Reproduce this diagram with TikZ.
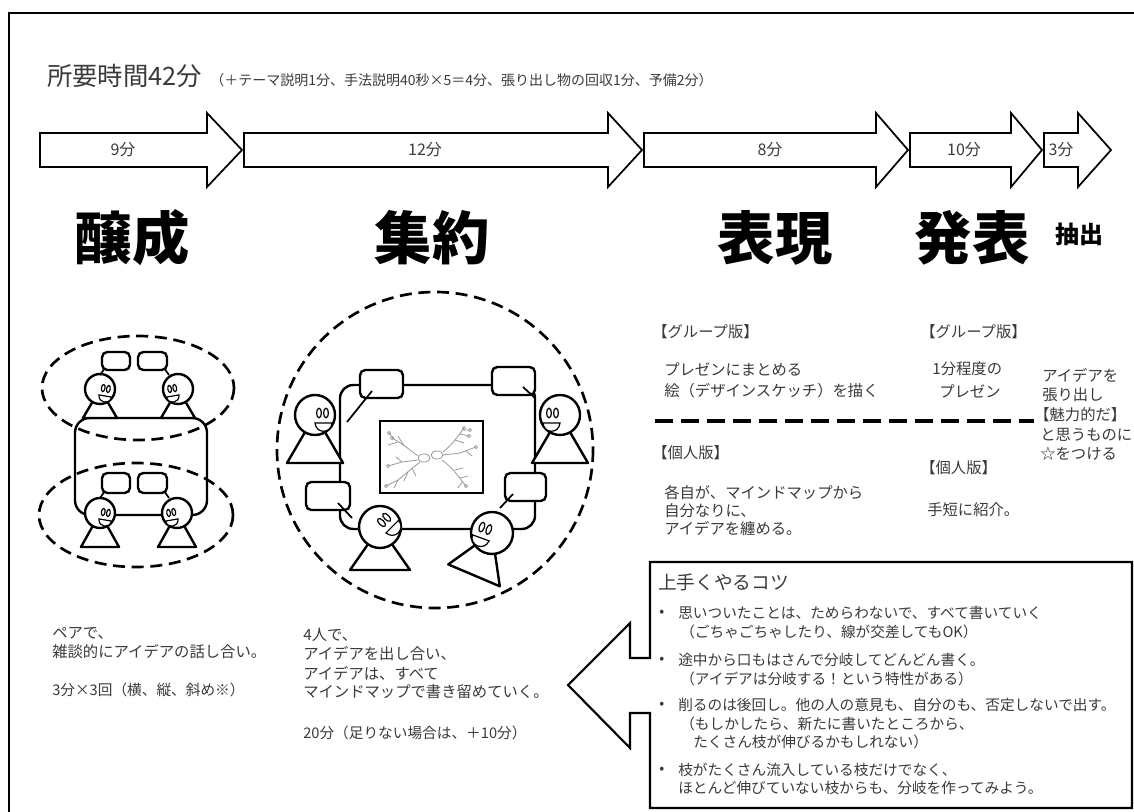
\documentclass[tikz,border=0pt]{standalone}
\usepackage{fontspec}
\setmainfont{Noto Sans CJK JP}
\usetikzlibrary{calc}

\definecolor{ink}{HTML}{3A3A3A}
\definecolor{mapgray}{HTML}{9A9A9A}

\tikzset{
  figline/.style={line width=1.8pt, line join=round},
  faceline/.style={line width=0.9pt},
  dashring/.style={line width=2pt, dash pattern=on 9pt off 5pt},
  bubble/.style={line width=1.8pt, rounded corners=4pt, fill=white},
  tail/.style={line width=1.3pt},
  flowshape/.style={line width=1.3pt, line join=miter, fill=white},
  flowlabel/.style={inner sep=0pt, text=ink, font=\fontsize{12}{12}\selectfont},
  stage/.style={inner sep=0pt, font=\fontsize{43}{43}\selectfont\bfseries},
  note/.style={inner sep=0pt, anchor=west, text=ink, font=\fontsize{11.5}{13}\selectfont},
  smallnote/.style={inner sep=0pt, anchor=west, text=ink, font=\fontsize{11}{12}\selectfont},
  tip/.style={inner sep=0pt, anchor=west, text=ink, font=\fontsize{11}{13}\selectfont},
  mapline/.style={mapgray, line width=0.6pt},
}

% block arrow of the timeline: name, left x, head x, tip x, label x, label
\newcommand{\flowarrow}[6]{%
  \draw[flowshape] (#2,133) -- (#3,133) -- (#3,113) -- (#4,150) -- (#3,187)
    -- (#3,167) -- (#2,167) -- cycle;
  \node[flowlabel] (#1) at (#5,150) {#6};}

% person: head x, head y, head radius, body depth, half base, body turn,
% face side (1 right, -1 left), face turn
\newcommand{\personfig}[8]{%
  \begin{scope}[shift={(#1,#2)}]
    \begin{scope}[rotate=#6]
      \draw[figline,fill=white] (0,0) -- (-#5,#4) -- (#5,#4) -- cycle;
    \end{scope}
    \draw[figline,fill=white] (0,0) circle[radius=#3];
    \begin{scope}[rotate=#8, xscale=#7*#3/20, yscale=#3/20]
      \draw[faceline,fill=white] (4,-2) ellipse[x radius=2.4, y radius=4.8];
      \draw[faceline,fill=white] (11,-2) ellipse[x radius=2.4, y radius=4.8];
      \draw[faceline,fill=white] (0,8) .. controls (1,19) and (16,19) .. (17,8) -- cycle;
    \end{scope}
  \end{scope}}

% lines of text: name, style, x, first y, step, list of lines
\newcommand{\textblock}[6]{%
  \foreach \ln [count=\k] in {#6}{%
    \node[#2] (#1-\k) at (#3,{#4+(\k-1)*#5}) {\ln};}}

\begin{document}
\begin{tikzpicture}[x=0.75pt,y=-0.75pt]
\useasboundingbox (0,0) rectangle (1134,812);
\fill[white] (0,0) rectangle (1134,812);

% page frame
\draw[line width=1.6pt] (9,812) -- (9,13) -- (1134,13);

% heading
\node[inner sep=0pt, anchor=base west, text=ink, font=\fontsize{19}{19}\selectfont] (total) at (47,86) {所要時間42分};
\node[inner sep=0pt, anchor=base west, text=ink, font=\fontsize{10.5}{12}\selectfont] (breakdown) at (210,86)
  {（＋テーマ説明1分、手法説明40秒×5＝4分、張り出し物の回収1分、予備2分）};

% timeline
\flowarrow{t1}{40}{207}{242}{123}{9分}
\flowarrow{t2}{244}{608}{642}{425}{12分}
\flowarrow{t3}{644}{876}{908}{770}{8分}
\flowarrow{t4}{910}{1011}{1042}{964}{10分}
\flowarrow{t5}{1044}{1078}{1111}{1061}{3分}

% phase titles
\node[stage] (s1) at (132,238) {醸成};
\node[stage] (s2) at (432,238) {集約};
\node[stage] (s3) at (775,238) {表現};
\node[stage] (s4) at (972,238) {発表};
\node[inner sep=0pt, font=\fontsize{18}{18}\selectfont\bfseries] (s5) at (1079,234) {抽出};

% ---- pair talk: two pairs at one table
\draw[figline, rounded corners=11pt] (75,418) rectangle (207,515);
\personfig{100}{389}{15}{29}{17}{0}{1}{-10}
\personfig{178}{389}{15}{29}{17}{0}{-1}{10}
\personfig{100}{513}{15}{34}{19}{0}{1}{-10}
\personfig{177}{513}{15}{34}{19}{0}{-1}{10}
\draw[bubble] (102,352) rectangle (130,370);
\draw[bubble] (138,352) rectangle (167,370);
\draw[tail] (105,368) -- (100,375);
\draw[tail] (164,368) -- (169,375);
\draw[bubble] (102,473) rectangle (130,493);
\draw[bubble] (138,473) rectangle (167,493);
\draw[tail] (105,491) -- (100,498);
\draw[tail] (164,491) -- (169,498);
\draw[dashring] (138,388) ellipse[x radius=96, y radius=52];
\draw[dashring] (136,515) ellipse[x radius=97, y radius=52];

% ---- group of four around the mind map
\draw[figline, rounded corners=10pt] (340,385) rectangle (535,529);
\draw[line width=2pt, fill=white] (380,421) rectangle (483,493);
% mind map sketch
\draw[mapline] (424,458) ellipse[x radius=6, y radius=4];
\draw[mapline] (437,455) ellipse[x radius=6, y radius=4];
\draw[mapline] (418,456) .. controls (410,450) .. (402,444) -- (392,438);
\draw[mapline] (404,446) -- (398,436) (398,442) -- (388,445) (394,439) -- (389,433);
\draw[mapline] (418,460) -- (402,462) -- (388,466);
\draw[mapline] (402,462) -- (396,457);
\draw[mapline] (420,462) .. controls (410,470) .. (398,480) -- (386,486);
\draw[mapline] (408,472) -- (404,481) (398,480) -- (394,488) (412,468) -- (416,476);
\draw[mapline] (443,452) .. controls (452,444) .. (458,436) -- (464,428);
\draw[mapline] (455,440) -- (464,443) (460,434) -- (469,436) (462,430) -- (470,430);
\draw[mapline] (443,455) -- (460,453) -- (476,447);
\draw[mapline] (466,451) -- (472,456);
\draw[mapline] (442,460) .. controls (452,468) .. (458,476) -- (466,486);
\draw[mapline] (455,470) -- (463,468) (460,478) -- (468,476) (462,482) -- (458,488);
\foreach \p in {(392,438),(389,433),(388,466),(386,486),(464,428),(470,430),(476,447),(466,486),(469,436)}
  \draw[mapline] \p circle[radius=1.6];
% people
\personfig{315}{415}{20}{48}{28}{0}{1}{0}
\personfig{560}{415}{20}{48}{28}{0}{-1}{0}
\personfig{380}{527}{21}{43}{30}{0}{1}{45}
\personfig{492}{533}{21}{46}{28}{-23}{-1}{-20}
% speech bubbles
\draw[bubble] (360,370) rectangle (403,398);
\draw[bubble] (492,367) rectangle (535,395);
\draw[bubble] (306,482) rectangle (350,510);
\draw[bubble] (505,473) rectangle (546,501);
\draw[tail] (372,391) -- (347,422);
\draw[tail] (523,387) -- (535,398);
\draw[tail] (338,503) -- (352,518);
\draw[tail] (513,494) -- (500,508);
\draw[dashring] (435,450) circle[radius=158];

% ---- notes under the figures
\textblock{pairA}{note}{52}{633}{19}{ペアで、,雑談的にアイデアの話し合い。}
\node[smallnote] (pairB) at (52,690) {3分×3回（横、縦、斜め※）};
\textblock{groupA}{note}{303}{635}{19}{4人で、,アイデアを出し合い、,アイデアは、すべて,マインドマップで書き留めていく。}
\node[smallnote] (groupB) at (303,733) {20分（足りない場合は、＋10分）};

% ---- expression / presentation notes
\node[note] (g1) at (652,332) {【グループ版】};
\textblock{g1t}{note}{664}{369}{22}{プレゼンにまとめる,絵（デザインスケッチ）を描く}
\node[note] (p1) at (652,453) {【個人版】};
\textblock{p1t}{note}{664}{493}{18}{各自が、マインドマップから,自分なりに、,アイデアを纏める。}
\node[note] (g2) at (920,332) {【グループ版】};
\node[note] (g2a) at (932,369) {1分程度の};
\node[note] (g2b) at (939,391) {プレゼン};
\node[note] (p2) at (920,468) {【個人版】};
\node[note] (p2a) at (927,510) {手短に紹介。};
\textblock{ex}{note}{1042}{375}{19.5}{アイデアを,張り出し}
\node[note] (ex-3) at (1034,415) {【魅力的だ】};
\textblock{exb}{note}{1040}{435}{19}{と思うものに,☆をつける}
\draw[line width=2.4pt, dash pattern=on 13.5pt off 6pt] (655,421) -- (1034,421);

% ---- tips panel with its arrow
\draw[line width=1.6pt, line join=miter, fill=white]
  (650,562) -- (1132,562) -- (1132,808) -- (650,808) -- (650,713) -- (630,713)
  -- (630,748) -- (568,685) -- (630,623) -- (630,658) -- (650,658) -- cycle;
\node[inner sep=0pt, anchor=west, text=ink, font=\fontsize{14}{14}\selectfont] (tipsHead) at (658,582) {上手くやるコツ};
\foreach \y [count=\k] in {613,660,705,770}
  \node[tip] (dot\k) at (659,\y) {•};
\node[tip] (tip1a) at (678,613) {思いついたことは、ためらわないで、すべて書いていく};
\node[tip] (tip1b) at (680,632) {（ごちゃごちゃしたり、線が交差してもOK）};
\node[tip] (tip2a) at (678,660) {途中から口もはさんで分岐してどんどん書く。};
\node[tip] (tip2b) at (680,679) {（アイデアは分岐する！という特性がある）};
\node[tip] (tip3a) at (678,705) {削るのは後回し。他の人の意見も、自分のも、否定しないで出す。};
\node[tip] (tip3b) at (680,724) {（もしかしたら、新たに書いたところから、};
\node[tip] (tip3c) at (693,742) {たくさん枝が伸びるかもしれない）};
\node[tip] (tip4a) at (678,770) {枝がたくさん流入している枝だけでなく、};
\node[tip] (tip4b) at (678,788) {ほとんど伸びていない枝からも、分岐を作ってみよう。};
\end{tikzpicture}
\end{document}
